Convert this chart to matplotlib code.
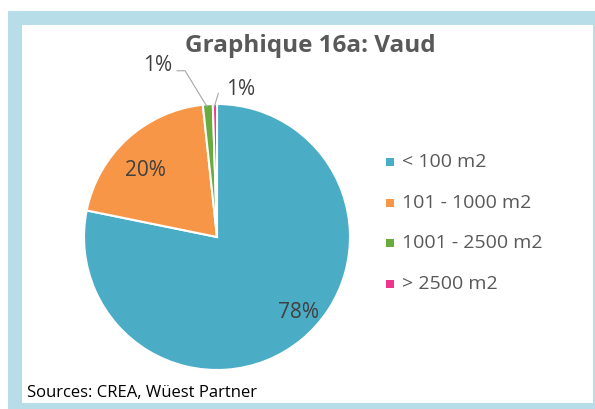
import matplotlib.pyplot as plt
from matplotlib.patches import Rectangle

# data
categories = ['< 100 m2', '101 - 1000 m2', '1001 - 2500 m2', '> 2500 m2']
shares = [78.2, 20.1, 1.2, 0.5]
labels = ['78%', '20%', '1%', '1%']
colors = ['#4BACC6', '#F79646', '#6AAB3E', '#F0338C']

plt.rcParams['font.family'] = ['Open Sans', 'DejaVu Sans']

fig = plt.figure(figsize=(5.95, 4.09), dpi=100)
W, H = 595, 409

# frame: light blue border with white inner panel
fig.patches.append(Rectangle((8 / W, 0), 1 - 8 / W, 1 - 11 / H, transform=fig.transFigure,
                             facecolor='#B7DDE8', edgecolor='none', zorder=-2))
fig.patches.append(Rectangle((22 / W, 6 / H), (593 - 22) / W, (403 - 25) / H,
                             transform=fig.transFigure, facecolor='white', edgecolor='none', zorder=-1))

# pie axes: centre (217, 237), radius 133 px
cx, cy, r = 217, 237, 133
ax = fig.add_axes([(cx - r) / W, (H - cy - r) / H, 2 * r / W, 2 * r / H])
ax.patch.set_visible(False)
wedges, _ = ax.pie(shares, colors=colors, startangle=90, counterclock=False,
                   wedgeprops=dict(edgecolor='white', linewidth=1.5))
ax.set_aspect('equal')
ax.set_xlim(-1, 1)
ax.set_ylim(-1, 1)
ax.axis('off')

txt = dict(fontsize=15, color='#404040', ha='center', va='center', clip_on=False)
ax.text(0.61, -0.57, labels[0], **txt)
ax.text(-0.54, 0.50, labels[1], **txt)

# small slices: outside labels with leader lines
ax.text(-0.45, 1.29, labels[2], **txt)
ax.text(0.18, 1.11, labels[3], **txt)
ax.plot([-0.30, -0.24, -0.075], [1.25, 1.25, 0.98], color='#A6A6A6', lw=0.8, clip_on=False)
ax.plot([0.01, -0.02], [1.08, 0.98], color='#A6A6A6', lw=0.8, clip_on=False)

fig.text(310 / W, 1 - 46 / H, 'Graphique 16a: Vaud', fontsize=17.5, fontweight='bold',
         color='#595959', ha='center', va='center')

# legend
leg_y = [162, 203, 243, 284]
for name, col, y in zip(categories, colors, leg_y):
    fig.patches.append(Rectangle((386 / W, 1 - (y + 4) / H), 8 / W, 8 / H,
                                 transform=fig.transFigure, facecolor=col, edgecolor='none'))
    fig.text(402 / W, 1 - y / H, name, fontsize=14, color='#595959', ha='left', va='center')

fig.text(27 / W, 1 - 393 / H, 'Sources: CREA, Wüest Partner', fontsize=12,
         color='black', ha='left', va='center')

fig.savefig('out.png', dpi=100)
